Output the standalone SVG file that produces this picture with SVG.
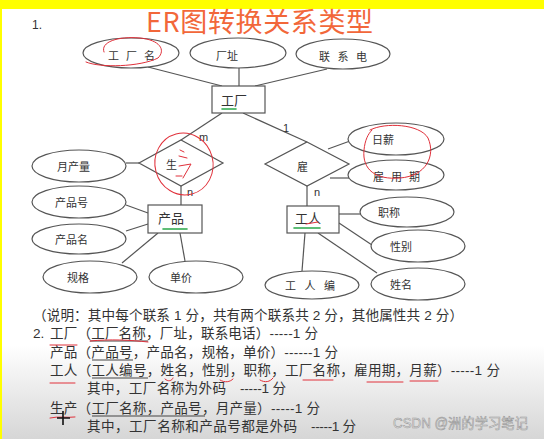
<svg xmlns="http://www.w3.org/2000/svg" width="544" height="439" viewBox="0 0 544 439">
<defs>
<linearGradient id="fade" x1="0" y1="0" x2="0" y2="1">
<stop offset="0" stop-color="#ffffff"/>
<stop offset="1" stop-color="#d6d6d6"/>
</linearGradient>
<style>
.shape{fill:#fff;stroke:#555;stroke-width:1.2}
.conn line{stroke:#555;stroke-width:1.2}
.lbl{font-family:"Noto Sans CJK SC","Noto Sans",sans-serif;font-size:11px;fill:#333}
.ent{font-family:"Noto Sans CJK SC","Noto Sans",sans-serif;font-size:13px;fill:#333}
.card{font-family:"Liberation Sans",sans-serif;font-size:11px;fill:#333}
.txt{font-family:"Liberation Sans","Noto Sans CJK SC",sans-serif;font-size:13.6px;fill:#333}
.red{fill:none;stroke:#e0303a;stroke-width:1;stroke-linecap:round}
.grn{fill:none;stroke:#2aa84a;stroke-width:1.6;stroke-linecap:round}
.ul{fill:none;stroke:#444;stroke-width:1}
</style>
</defs>
<rect x="0" y="0" width="544" height="439" fill="#fff"/>
<rect x="0" y="345" width="544" height="94" fill="url(#fade)"/>
<rect x="0" y="0" width="544" height="9" fill="#ffff00"/>
<rect x="0" y="0" width="2" height="439" fill="#ffff00"/>

<text x="32" y="29" font-family="Liberation Sans,sans-serif" font-size="12" fill="#333">1.</text>
<text x="146" y="32" font-family="Noto Sans CJK SC,sans-serif" font-size="27" fill="#f2673a" textLength="227" lengthAdjust="spacing">ER图转换关系类型</text>

<g class="conn" id="connectors">
<line x1="148" y1="67" x2="222" y2="86"/>
<line x1="239" y1="68" x2="239" y2="86"/>
<line x1="327" y1="69" x2="255" y2="86"/>
<line x1="222" y1="113" x2="181" y2="140"/>
<line x1="243" y1="113" x2="307" y2="142"/>
<line x1="126" y1="163" x2="139" y2="163"/>
<line x1="181" y1="186" x2="181" y2="205"/>
<line x1="126" y1="205" x2="148" y2="213"/>
<line x1="126" y1="231" x2="148" y2="224"/>
<line x1="122" y1="263" x2="158" y2="233"/>
<line x1="185" y1="261" x2="180" y2="233"/>
<line x1="328" y1="149" x2="350" y2="141"/>
<line x1="330" y1="178" x2="349" y2="178"/>
<line x1="307" y1="186" x2="307" y2="206"/>
<line x1="339" y1="214" x2="360" y2="214"/>
<line x1="339" y1="223" x2="372" y2="245"/>
<line x1="318" y1="233" x2="377" y2="273"/>
<line x1="305" y1="233" x2="302" y2="271"/>
</g>

<g id="factory"><rect class="shape" x="212" y="86" width="53" height="27"/><text class="ent" x="221" y="105">工厂</text></g>
<g id="product"><rect class="shape" x="148" y="205" width="54" height="28"/><text class="ent" x="158" y="223">产品</text></g>
<g id="worker"><rect class="shape" x="287" y="206" width="52" height="27"/><text class="ent" x="295" y="223">工人</text></g>

<g id="produce"><polygon class="shape" points="181,140 223,163 181,186 139,163"/><text class="lbl" x="166" y="169">生</text></g>
<g id="employ"><polygon class="shape" points="307,142 349,164 307,186 265,164"/><text class="lbl" x="297" y="171">雇</text></g>

<g id="attr-factory-name"><ellipse class="shape" cx="131" cy="53" rx="48" ry="15"/><text class="lbl" x="108" y="60" letter-spacing="7">工厂名</text></g>
<g id="attr-factory-addr"><ellipse class="shape" cx="238" cy="53" rx="48" ry="15"/><text class="lbl" x="216" y="60">厂址</text></g>
<g id="attr-factory-tel"><ellipse class="shape" cx="343" cy="54" rx="47" ry="15"/><text class="lbl" x="319" y="61" letter-spacing="7.5">联系电</text></g>
<g id="attr-monthly-output"><ellipse class="shape" cx="79" cy="166" rx="47" ry="16"/><text class="lbl" x="57" y="171">月产量</text></g>
<g id="attr-product-no"><ellipse class="shape" cx="79" cy="202" rx="47" ry="16"/><text class="lbl" x="55" y="207">产品号</text></g>
<g id="attr-product-name"><ellipse class="shape" cx="79" cy="239" rx="47" ry="15"/><text class="lbl" x="55" y="244">产品名</text></g>
<g id="attr-spec"><ellipse class="shape" cx="90" cy="277" rx="47" ry="16"/><text class="lbl" x="67" y="282">规格</text></g>
<g id="attr-price"><ellipse class="shape" cx="196" cy="277" rx="47" ry="16"/><text class="lbl" x="170" y="282">单价</text></g>
<g id="attr-salary"><ellipse class="shape" cx="396" cy="139" rx="48" ry="16"/><text class="lbl" x="372" y="144">日薪</text></g>
<g id="attr-hire-date"><ellipse class="shape" cx="396" cy="175" rx="48" ry="15"/><text class="lbl" x="373" y="181" letter-spacing="7">雇用期</text></g>
<g id="attr-title"><ellipse class="shape" cx="407" cy="212" rx="47" ry="15"/><text class="lbl" x="378" y="217">职称</text></g>
<g id="attr-gender"><ellipse class="shape" cx="418" cy="246" rx="47" ry="16"/><text class="lbl" x="390" y="251">性别</text></g>
<g id="attr-name"><ellipse class="shape" cx="418" cy="284" rx="47" ry="16"/><text class="lbl" x="390" y="289">姓名</text></g>
<g id="attr-worker-no"><ellipse class="shape" cx="312" cy="285" rx="47" ry="14"/><text class="lbl" x="285" y="290" letter-spacing="8.5">工人编</text></g>

<text class="card" x="199" y="141">m</text>
<text class="card" x="283" y="132">1</text>
<text class="card" x="187" y="196">n</text>
<text class="card" x="314" y="196">n</text>

<g id="annotations">
<path class="red" d="M86,62 C100,68 140,67 158,58 C166,50 160,40 140,38 C118,36 100,42 104,52"/>
<ellipse class="red" cx="184" cy="164" rx="29" ry="31" transform="rotate(-15 184 164)"/>
<path class="red" d="M180,150 L184,152 M179,156 L187,158 M179,166 L191,164 L183,178 M176,176 L182,176"/>
<path class="red" d="M370,130 C385,122 420,124 428,138 C436,156 426,176 400,178 C376,180 362,170 364,150 C365,140 368,134 372,130"/>
<line class="grn" x1="222" y1="109" x2="236" y2="109"/>
<line class="grn" x1="163" y1="229" x2="187" y2="229"/>
<line class="grn" x1="294" y1="228" x2="320" y2="228"/>
<path class="red" d="M306,224 L318,222"/>
</g>

<g id="answer-text">
<text class="txt" x="33" y="320" textLength="430" lengthAdjust="spacing">（说明：其中每个联系 1 分，共有两个联系共 2 分，其他属性共 2 分）</text>
<text class="txt" x="33" y="338">2.</text>
<text class="txt" x="50" y="338" textLength="268" lengthAdjust="spacing">工厂（工厂名称，厂址，联系电话）-----1 分</text>
<text class="txt" x="50" y="357" textLength="288" lengthAdjust="spacing">产品（产品号，产品名，规格，单价）------1 分</text>
<text class="txt" x="50" y="375" textLength="450" lengthAdjust="spacing">工人（工人编号，姓名，性别，职称，工厂名称，雇用期，月薪）-----1 分</text>
<text class="txt" x="87" y="393" textLength="139" lengthAdjust="spacing">其中，工厂名称为外码</text>
<text class="txt" x="240" y="393" textLength="46" lengthAdjust="spacing">-----1 分</text>
<text class="txt" x="50" y="413" textLength="270" lengthAdjust="spacing">生产（工厂名称，产品号，月产量）-----1 分</text>
<text class="txt" x="87" y="431" textLength="210" lengthAdjust="spacing">其中，工厂名称和产品号都是外码</text>
<text class="txt" x="311" y="431" textLength="45" lengthAdjust="spacing">-----1 分</text>
<path class="ul" d="M90,341 H148 M92,360 H133 M92,378 H148 M92,416 H205"/>
<path class="red" d="M90,341 C110,339 130,340 148,342 M50,345 H77 M165,379 C168,382 172,381 173,378 M220,380 C225,383 230,382 233,379 M260,380 C265,383 270,382 273,378 M303,380 H333 M367,382 H403 M410,381 H438 M50,383 H75 M50,418 C58,416 68,418 75,417"/>
<path d="M63,411 V425 M57,418 H70" stroke="#111" stroke-width="1.6"/>
</g>

<text x="393" y="428" font-family="Liberation Sans,Noto Sans CJK SC,sans-serif" font-size="14" fill="#eeeeee" stroke="#999" stroke-width="0.6" textLength="135" lengthAdjust="spacingAndGlyphs">CSDN @洲的学习笔记</text>
</svg>
